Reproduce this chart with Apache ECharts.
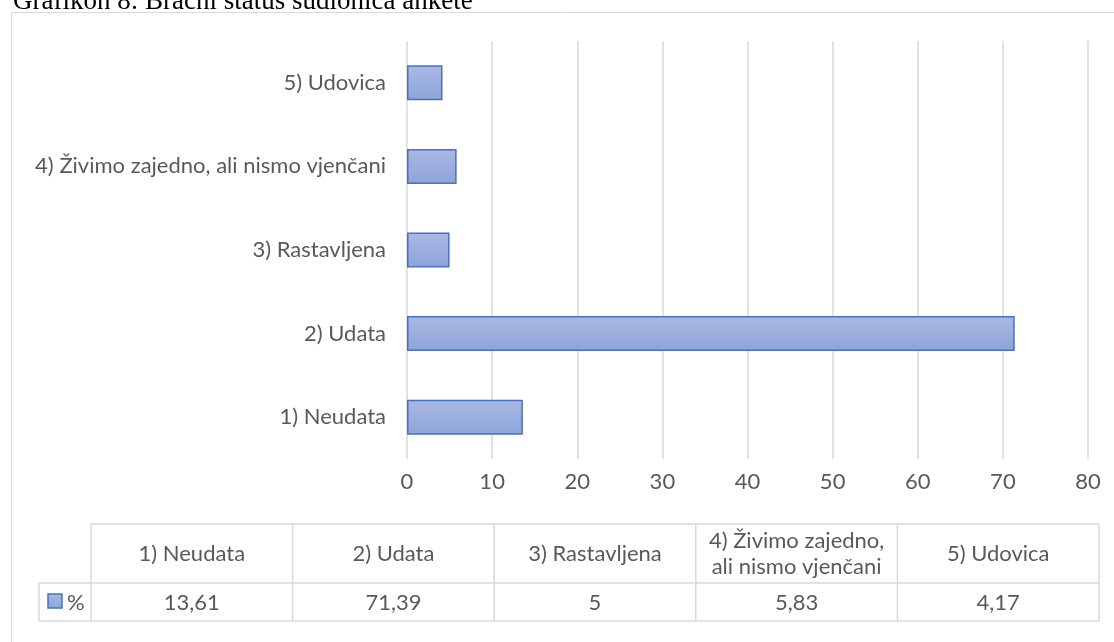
<!DOCTYPE html>
<html>
<head>
<meta charset="utf-8">
<script src="https://cdn.jsdelivr.net/npm/echarts@6/dist/echarts.min.js"></script>
<style>
html,body{margin:0;padding:0;background:#fff;}
#c{width:1114px;height:642px;}
</style>
</head>
<body>
<div id="c"></div>
<script>
const titleText = 'Grafikon 8: Bračni status sudionica ankete';
const categories = ['1) Neudata', '2) Udata', '3) Rastavljena', '4) Živimo zajedno, ali nismo vjenčani', '5) Udovica'];
const tableHeaders = ['1) Neudata', '2) Udata', '3) Rastavljena', '4) Živimo zajedno,\nali nismo vjenčani', '5) Udovica'];
const values = [13.61, 71.39, 5, 5.83, 4.17];
const seriesName = '%';
const xTicks = [0, 10, 20, 30, 40, 50, 60, 70, 80];

const FONT = 'Lato';
const FS = 22;
const TXT = '#595959';
const GRID = '#D9D9D9';

const chart = echarts.init(document.getElementById('c'), null, {renderer: 'canvas'});

const g = [];
g.push({type:'rect', shape:{x:11.5, y:12.5, width:1200, height:700}, style:{fill:null, stroke:GRID, lineWidth:1}, silent:true});
g.push({type:'text', x:13, y:-12, style:{text:titleText, font:'27px "Liberation Serif"', fill:'#000'}});
const tLeft = 91, colW = (1099 - 91) / categories.length;
const hTop = 524, hBot = 583, vBot = 621, legL = 39;
const lineStyle = {stroke:GRID, lineWidth:1.5};
g.push({type:'line', shape:{x1:tLeft, y1:hTop, x2:1099, y2:hTop}, style:lineStyle});
g.push({type:'line', shape:{x1:legL, y1:hBot, x2:1099, y2:hBot}, style:lineStyle});
g.push({type:'line', shape:{x1:legL, y1:vBot, x2:1099, y2:vBot}, style:lineStyle});
g.push({type:'line', shape:{x1:legL, y1:hBot, x2:legL, y2:vBot}, style:lineStyle});
for (let i = 0; i <= categories.length; i++) {
  const x = tLeft + i * colW;
  g.push({type:'line', shape:{x1:x, y1:hTop, x2:x, y2:vBot}, style:lineStyle});
}
tableHeaders.forEach((h, i) => {
  g.push({type:'text', x: tLeft + (i + 0.5) * colW, y: (hTop + hBot) / 2,
    style:{text:h, font:FS + 'px ' + FONT, fill:TXT, align:'center', verticalAlign:'middle', lineHeight:26}});
});
values.forEach((v, i) => {
  g.push({type:'text', x: tLeft + (i + 0.5) * colW, y: (hBot + vBot) / 2 + 1,
    style:{text:String(v).replace('.', ','), font:FS + 'px ' + FONT, fill:TXT, align:'center', verticalAlign:'middle'}});
});
g.push({type:'rect', shape:{x:48, y:594, width:14, height:14},
  style:{fill:new echarts.graphic.LinearGradient(0,0,0,1,[{offset:0,color:'#AAB9E3'},{offset:1,color:'#8DA4DA'}]), stroke:'#4472C4', lineWidth:1.5}});
g.push({type:'text', x:67, y:(hBot + vBot) / 2 + 1, style:{text:seriesName, font:FS + 'px ' + FONT, fill:TXT, verticalAlign:'middle'}});

chart.setOption({
  backgroundColor:'#fff',
  animation:false,
  grid:{left:407, right:26, top:41, bottom:183, containLabel:false},
  xAxis:{type:'value', min:xTicks[0], max:xTicks[xTicks.length-1], interval:10,
    axisLine:{show:false}, axisTick:{show:false},
    splitLine:{lineStyle:{color:GRID, width:1.5}},
    axisLabel:{color:TXT, fontFamily:FONT, fontSize:FS, margin:12}},
  yAxis:{type:'category', data:categories,
    axisLine:{show:false}, axisTick:{show:false},
    axisLabel:{color:TXT, fontFamily:FONT, fontSize:FS, margin:21}},
  series:[{type:'bar', name:seriesName, data:values, barWidth:35,
    itemStyle:{color:new echarts.graphic.LinearGradient(0,0,0,1,[{offset:0,color:'#AAB9E3'},{offset:1,color:'#8DA4DA'}]),
      borderColor:'#4472C4', borderWidth:1.5}}],
  graphic:g
});
</script>
</body>
</html>
